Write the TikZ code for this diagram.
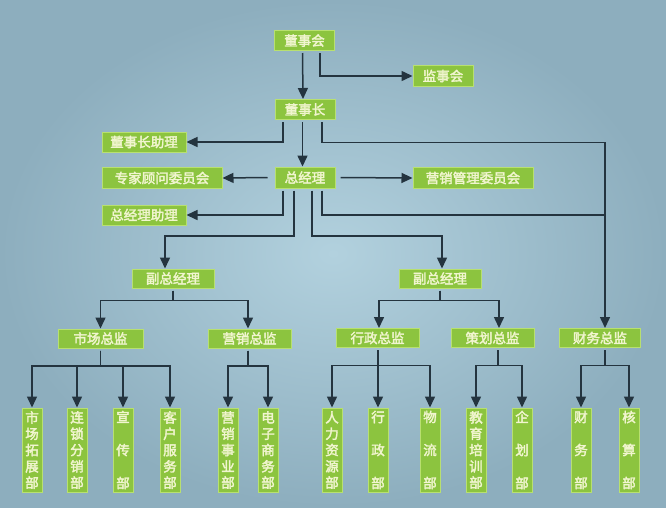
\documentclass[tikz,border=0pt]{standalone}
\usepackage{fontspec}
\newfontfamily\cjk[FakeBold=2.5]{Noto Sans CJK SC}
\usetikzlibrary{arrows.meta,calc}
\definecolor{bgin}{HTML}{B2D1DE}
\definecolor{bgout}{HTML}{8DAEBE}
\definecolor{boxfill}{HTML}{8CC43F}
\definecolor{boxedge}{HTML}{B8E070}
\definecolor{txt}{HTML}{F1F5CF}
\definecolor{lnk}{HTML}{24343F}
\begin{document}
\begin{tikzpicture}[x=1pt,y=-1pt,
  box/.style={draw=boxedge,fill=boxfill,line width=1pt,inner sep=0pt,minimum height=20pt,text=txt,font=\cjk\fontsize{13.5}{15}\selectfont},
  leaffive/.style={box,minimum width=20pt,minimum height=84pt,align=center,font=\cjk\fontsize{13.5}{16.3}\selectfont},
  leafthree/.style={box,minimum width=20pt,minimum height=84pt,align=center,font=\cjk\fontsize{13.5}{33}\selectfont},
  lk/.style={draw=lnk,line width=1.5pt,-{Triangle[length=11pt,width=10pt]}},
  ln/.style={draw=lnk,line width=1.5pt}]
\shade[inner color=bgin,outer color=bgout] (0,0) rectangle (666,507);
\useasboundingbox (0,0) rectangle (666,507);

% upper nodes
\node[box,minimum width=60pt] (dsh) at (304.5,40.5) {董事会};
\node[box,minimum width=60pt,minimum height=21pt] (jsh) at (443,76) {监事会};
\node[box,minimum width=60pt] (dsz) at (305,109.5) {董事长};
\node[box,minimum width=84pt] (dszl) at (144,142) {董事长助理};
\node[box,minimum width=120pt,minimum height=21pt] (zjgw) at (162,178) {专家顾问委员会};
\node[box,minimum width=60pt,minimum height=21pt] (zjl) at (305,177.5) {总经理};
\node[box,minimum width=120pt,minimum height=21pt] (yxgl) at (473,178) {营销管理委员会};
\node[box,minimum width=84pt] (zjlzl) at (144,215) {总经理助理};
\node[box,minimum width=82pt,minimum height=19pt] (fza) at (173,278.5) {副总经理};
\node[box,minimum width=82pt,minimum height=19pt] (fzb) at (440,278.5) {副总经理};
\node[box,minimum width=85pt,minimum height=19pt] (sc) at (100.5,338.5) {市场总监};
\node[box,minimum width=83pt,minimum height=19pt] (yx) at (249.5,338.5) {营销总监};
\node[box,minimum width=83pt,minimum height=19pt] (xz) at (377.5,338) {行政总监};
\node[box,minimum width=83pt,minimum height=19pt] (ch) at (492.5,338) {策划总监};
\node[box,minimum width=81pt,minimum height=19pt] (cw) at (600,338) {财务总监};

% leaves
\node[leaffive] (l1) at (32,450) {市\\场\\拓\\展\\部};
\node[leaffive] (l2) at (77,450) {连\\锁\\分\\销\\部};
\node[leafthree] (l3) at (123,450) {宣\\传\\部};
\node[leaffive] (l4) at (170,450) {客\\户\\服\\务\\部};
\node[leaffive] (l5) at (228,450) {营\\销\\事\\业\\部};
\node[leaffive] (l6) at (268,450) {电\\子\\商\\务\\部};
\node[leaffive] (l7) at (332,450) {人\\力\\资\\源\\部};
\node[leafthree] (l8) at (378,450) {行\\政\\部};
\node[leafthree] (l9) at (430,450) {物\\流\\部};
\node[leaffive] (l10) at (476,450) {教\\育\\培\\训\\部};
\node[leafthree] (l11) at (522,450) {企\\划\\部};
\node[leafthree] (l12) at (581,450) {财\\务\\部};
\node[leafthree] (l13) at (629,450) {核\\算\\部};

\coordinate (cwtop) at ([xshift=5pt]cw.north);
\coordinate (cwjoin) at (605,215);

% upper connectors
\draw[lk,shorten <=2pt] ([xshift=-2pt]dsh.south) -- ([xshift=-2pt]dsz.north);
\draw[lk,shorten <=2pt] ([xshift=15.5pt]dsh.south) |- (jsh.west);
\draw[lk,shorten <=2pt] ([xshift=-22pt]dsz.south) |- (dszl.east);
\draw[lk,shorten <=2pt] ([xshift=-2.5pt]dsz.south) -- ([xshift=-2.5pt]zjl.north);
\draw[lk,shorten <=2pt] ([xshift=17pt]dsz.south) -- ++(0,22.5) -| (cwtop);
\draw[lk] ([xshift=-7pt]zjl.west) -- (zjgw.east);
\draw[lk] ([xshift=5pt]zjl.east) -- (yxgl.west);
\draw[lk,shorten <=2pt] ([xshift=-22pt]zjl.south) |- (zjlzl.east);
\draw[ln,shorten <=2pt] ([xshift=17pt]zjl.south) |- (cwjoin);
\draw[lk,shorten <=2pt] ([xshift=-11pt]zjl.south) -- ++(0,47.5) -| ([xshift=-8pt]fza.north);
\draw[lk,shorten <=2pt] ([xshift=7pt]zjl.south) -- ++(0,47.5) -| ([xshift=2pt]fzb.north);

% deputy GMs to directors
\draw[lk,shorten <=2pt] (fza.south) -- ++(0,12) -| (sc.north);
\draw[lk,shorten <=2pt] (fza.south) -- ++(0,12) -| ([xshift=-1.5pt]yx.north);
\draw[lk,shorten <=2pt] (fzb.south) -- ++(0,12) -| ([xshift=1.5pt]xz.north);
\draw[lk,shorten <=2pt] (fzb.south) -- ++(0,12) -| ([xshift=6.5pt]ch.north);

% directors to departments
\foreach \l in {l1,l2,l3,l4}
  \draw[lk,shorten <=2pt] (sc.south) -- ++(0,17.5) -| (\l.north);
\foreach \l in {l5,l6}
  \draw[lk,shorten <=2pt] ([xshift=-1.5pt]yx.south) -- ++(0,17.5) -| (\l.north);
\foreach \l in {l7,l8,l9}
  \draw[lk,shorten <=2pt] ([xshift=0.5pt]xz.south) -- ++(0,17.5) -| (\l.north);
\foreach \l in {l10,l11}
  \draw[lk,shorten <=2pt] ([xshift=5.5pt]ch.south) -- ++(0,17.5) -| (\l.north);
\foreach \l in {l12,l13}
  \draw[lk,shorten <=2pt] ([xshift=5pt]cw.south) -- ++(0,17.5) -| (\l.north);
\end{tikzpicture}
\end{document}
